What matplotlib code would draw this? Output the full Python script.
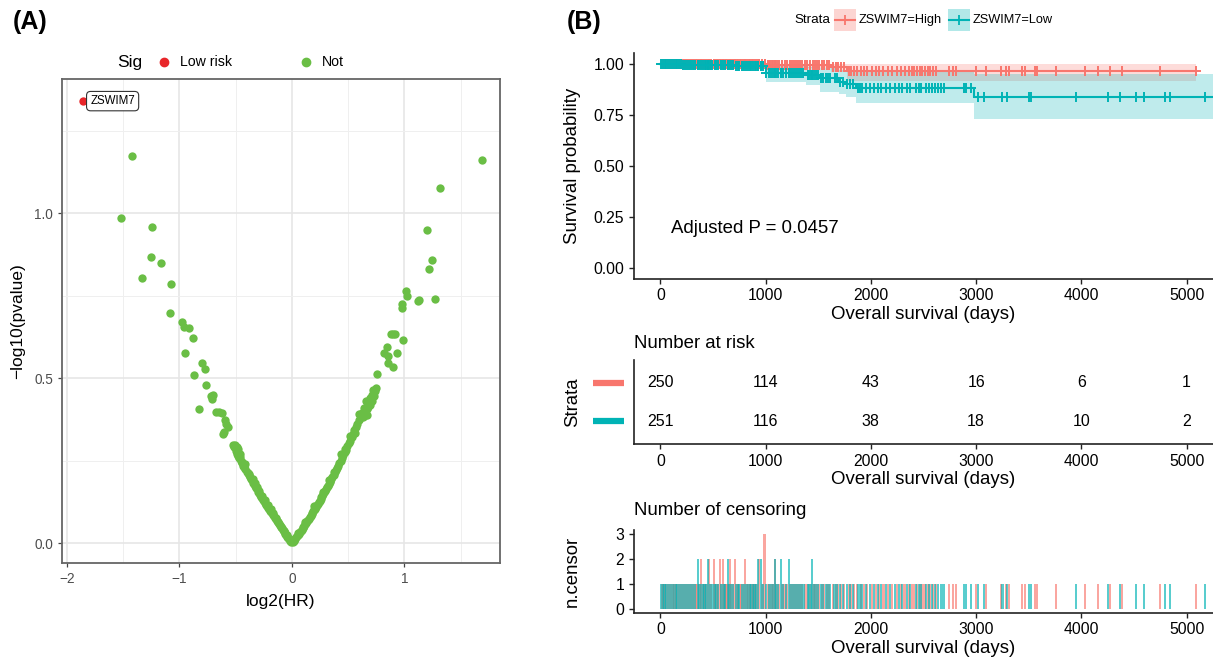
import numpy as np
import matplotlib
matplotlib.use("Agg")
import matplotlib.pyplot as plt
from matplotlib.lines import Line2D
from matplotlib.patches import Rectangle

plt.rcParams['font.family'] = ['Liberation Sans', 'DejaVu Sans']

# ---------------- Panel A: univariate Cox volcano ----------------
sig_gene = "ZSWIM7"
sig_log2hr = -1.858
sig_neglogp = 1.339

# genes with log2(HR) < 0 : (log2HR, -log10 p)
left_arm = [
    (-1.425, 1.174), (-1.520, 0.984), (-1.244, 0.958), (-1.256, 0.868), (-1.164, 0.848),
    (-1.336, 0.802), (-1.073, 0.784), (-1.087, 0.696), (-0.975, 0.671), (-0.960, 0.656),
    (-0.916, 0.651), (-0.883, 0.622), (-0.951, 0.575), (-0.797, 0.545), (-0.776, 0.529),
    (-0.868, 0.509), (-0.767, 0.479), (-0.723, 0.445), (-0.699, 0.448), (-0.710, 0.438),
    (-0.824, 0.407), (-0.671, 0.398), (-0.650, 0.396), (-0.625, 0.393), (-0.593, 0.373),
    (-0.569, 0.352), (-0.582, 0.362), (-0.616, 0.332), (-0.608, 0.338), (-0.521, 0.297),
    (-0.505, 0.297), (-0.492, 0.292), (-0.515, 0.290), (-0.480, 0.285), (-0.460, 0.270),
    (-0.462, 0.262), (-0.440, 0.247), (-0.418, 0.240),
    (-0.500, 0.278), (-0.490, 0.271), (-0.478, 0.264), (-0.470, 0.259), (-0.455, 0.250),
    (-0.446, 0.244), (-0.432, 0.235), (-0.425, 0.231), (-0.414, 0.224), (-0.402, 0.217),
    (-0.395, 0.212), (-0.386, 0.206), (-0.372, 0.199), (-0.365, 0.193), (-0.356, 0.190),
    (-0.344, 0.182), (-0.337, 0.178), (-0.326, 0.172), (-0.318, 0.168), (-0.305, 0.160),
    (-0.298, 0.156), (-0.289, 0.151), (-0.280, 0.147), (-0.271, 0.141), (-0.262, 0.136),
    (-0.254, 0.132), (-0.246, 0.127), (-0.237, 0.122), (-0.228, 0.117), (-0.220, 0.113),
    (-0.211, 0.108), (-0.203, 0.104), (-0.194, 0.099), (-0.185, 0.094), (-0.177, 0.090),
    (-0.168, 0.086), (-0.160, 0.081), (-0.151, 0.076), (-0.143, 0.072), (-0.134, 0.067),
    (-0.126, 0.063), (-0.117, 0.058), (-0.109, 0.054), (-0.100, 0.050), (-0.092, 0.046),
    (-0.083, 0.041), (-0.075, 0.037), (-0.066, 0.032), (-0.058, 0.028), (-0.049, 0.024),
    (-0.041, 0.020), (-0.032, 0.015), (-0.024, 0.012), (-0.015, 0.007), (-0.007, 0.003),
    (-0.378, 0.211), (-0.350, 0.193), (-0.330, 0.181), (-0.310, 0.170), (-0.290, 0.158),
    (-0.266, 0.143), (-0.240, 0.130), (-0.215, 0.116), (-0.190, 0.103), (-0.170, 0.091),
    (-0.140, 0.075), (-0.120, 0.064), (-0.095, 0.050), (-0.070, 0.038), (-0.045, 0.025),
    (-0.020, 0.012),
]

# genes with log2(HR) > 0
right_arm = [
    (1.692, 1.160), (1.313, 1.076), (1.203, 0.950), (1.247, 0.858), (1.221, 0.830),
    (1.271, 0.739), (1.129, 0.736), (1.118, 0.734), (1.016, 0.765), (1.018, 0.748),
    (0.975, 0.726), (0.980, 0.711), (0.990, 0.615), (0.877, 0.633), (0.896, 0.634),
    (0.918, 0.635), (0.844, 0.595), (0.822, 0.575), (0.850, 0.568), (0.850, 0.545),
    (0.936, 0.577), (0.898, 0.534), (0.756, 0.512), (0.745, 0.470), (0.738, 0.460),
    (0.723, 0.465), (0.727, 0.445), (0.715, 0.432), (0.700, 0.440), (0.690, 0.420),
    (0.680, 0.412), (0.664, 0.388), (0.670, 0.405), (0.650, 0.400), (0.640, 0.410),
    (0.630, 0.383),
    (0.006, 0.003), (0.014, 0.007), (0.022, 0.010), (0.030, 0.014), (0.038, 0.018),
    (0.046, 0.021), (0.054, 0.025), (0.062, 0.029), (0.070, 0.033), (0.078, 0.037),
    (0.086, 0.041), (0.094, 0.045), (0.102, 0.049), (0.110, 0.053), (0.118, 0.057),
    (0.126, 0.062), (0.134, 0.066), (0.142, 0.070), (0.150, 0.074), (0.158, 0.079),
    (0.166, 0.083), (0.174, 0.087), (0.182, 0.092), (0.190, 0.096), (0.198, 0.101),
    (0.206, 0.105), (0.214, 0.110), (0.222, 0.115), (0.230, 0.119), (0.238, 0.124),
    (0.246, 0.129), (0.254, 0.134), (0.262, 0.139), (0.270, 0.144), (0.278, 0.148),
    (0.286, 0.154), (0.294, 0.158), (0.302, 0.164), (0.310, 0.169), (0.318, 0.174),
    (0.326, 0.179), (0.334, 0.184), (0.342, 0.189), (0.350, 0.195), (0.360, 0.201),
    (0.370, 0.208), (0.380, 0.215), (0.390, 0.222), (0.400, 0.228), (0.410, 0.235),
    (0.420, 0.242), (0.432, 0.250), (0.444, 0.259), (0.456, 0.266), (0.468, 0.275),
    (0.480, 0.283), (0.492, 0.293), (0.505, 0.302), (0.518, 0.311), (0.530, 0.322),
    (0.542, 0.331), (0.555, 0.342), (0.568, 0.351), (0.580, 0.362), (0.595, 0.372),
    (0.610, 0.383), (0.625, 0.395),
    (0.050, 0.030), (0.120, 0.065), (0.200, 0.112), (0.280, 0.155), (0.330, 0.190),
    (0.375, 0.217), (0.440, 0.270), (0.470, 0.285), (0.520, 0.325), (0.560, 0.335),
    (0.600, 0.390), (0.640, 0.385), (0.660, 0.430), (0.690, 0.440), (0.710, 0.450),
]

# ---------------- Panel B: Kaplan-Meier (ZSWIM7 High / Low) ----------------
strata_labels = ["ZSWIM7=High", "ZSWIM7=Low"]
p_text = "Adjusted P = 0.0457"

high_step_days = [0, 1010, 1620, 1770]
high_surv = [1.000, 0.992, 0.982, 0.964]
high_lower = [1.000, 0.977, 0.960, 0.915]
high_upper = [1.000, 1.000, 1.000, 1.000]
high_last_day = 5090

low_step_days = [0, 200, 480, 700, 1000, 1380, 1514, 1700, 1760, 1860, 2975]
low_surv = [1.000, 0.996, 0.992, 0.988, 0.956, 0.944, 0.928, 0.912, 0.902, 0.881, 0.835]
low_lower = [1.000, 0.985, 0.978, 0.972, 0.910, 0.895, 0.861, 0.850, 0.837, 0.810, 0.732]
low_upper = [1.000, 1.000, 1.000, 1.000, 0.990, 0.985, 0.978, 0.970, 0.965, 0.960, 0.951]
low_last_day = 5260

# censoring days (a repeated day means several patients censored that day)
high_censor_days = [
    12, 30, 48, 65, 80, 102, 118, 135, 150, 172, 190, 205, 228, 245, 262, 280, 300, 318, 335, 352, 372,
    390, 390, 410, 425, 440, 466, 466, 482, 507, 507, 520, 535, 548, 567, 567, 580, 593, 593, 610,
    622, 635, 648, 662, 662, 675, 690, 713, 713, 725, 740, 755, 770, 785, 805, 805, 820, 838, 855,
    870, 885, 900, 918, 935, 935, 965, 990, 990, 990, 1025, 1040, 1060, 1075, 1093, 1093, 1110,
    1125, 1160, 1180, 1200, 1235, 1255, 1270, 1290, 1310, 1330, 1350, 1372, 1395, 1420, 1455, 1470,
    1490, 1510, 1535, 1555, 1580, 1600, 1640, 1665, 1690, 1720, 1745, 1790, 1815, 1840, 1870, 1905,
    1935, 1965, 2010, 2050, 2080, 2120, 2160, 2200, 2250, 2285, 2320, 2360, 2390, 2410, 2440, 2470,
    2490, 2510, 2540, 2565, 2590, 2620, 2740, 2780, 2810, 3001, 3097, 3239, 3280, 3312, 3438, 3460,
    3555, 3578, 3761, 4030, 4157, 4268, 4385, 4750, 5086,
]
low_censor_days = [
    5, 22, 40, 58, 75, 92, 110, 128, 145, 162, 180, 198, 215, 235, 252, 270, 290, 310, 328, 355, 355,
    365, 385, 405, 420, 435, 450, 450, 475, 492, 515, 530, 545, 575, 600, 615, 640, 640, 655, 670,
    690, 720, 735, 750, 780, 795, 812, 830, 848, 862, 880, 895, 910, 930, 930, 957, 957, 975, 1005,
    1035, 1050, 1070, 1086, 1086, 1100, 1118, 1147, 1147, 1165, 1190, 1220, 1220, 1245, 1262, 1280,
    1300, 1320, 1340, 1360, 1400, 1415, 1430, 1443, 1443, 1460, 1480, 1500, 1525, 1545, 1570, 1595,
    1615, 1655, 1680, 1710, 1735, 1775, 1800, 1830, 1880, 1895, 1920, 1950, 1990, 2030, 2065, 2100,
    2140, 2185, 2230, 2270, 2300, 2345, 2375, 2430, 2455, 2480, 2520, 2550, 2580, 2605, 2640, 2668,
    2690, 2882, 2906, 2950, 3020, 3075, 3250, 3295, 3500, 3520, 3951, 4252, 4370, 4515, 4591, 4797,
    4845, 5171,
]

risk_days = [0, 1000, 2000, 3000, 4000, 5000]
high_at_risk = [250, 114, 43, 16, 6, 1]
low_at_risk = [251, 116, 38, 18, 10, 2]

# ---------------- styling ----------------
RED = "#F8766D"
TEAL = "#00B3B5"
GREEN = "#6ABE45"
SIGRED = "#E8262A"
W, H = 1213, 659

fig = plt.figure(figsize=(W / 100, H / 100), dpi=100)


def fx(px):
    return px / W


def fy(py):
    return 1 - py / H


# ---- Panel A ----
axA = fig.add_axes([fx(62), fy(563), fx(500) - fx(62), fy(79) - fy(563)])
lx, ly = zip(*left_arm)
rx, ry = zip(*right_arm)
axA.scatter(lx, ly, s=36, color=GREEN, linewidths=0, zorder=3)
axA.scatter(rx, ry, s=36, color=GREEN, linewidths=0, zorder=3)
axA.scatter([sig_log2hr], [sig_neglogp], s=36, color=SIGRED, linewidths=0, zorder=3)
axA.text(sig_log2hr + 0.065, sig_neglogp, sig_gene, fontsize=8.3, ha='left', va='center',
         zorder=4, bbox=dict(boxstyle='round,pad=0.32,rounding_size=0.35', fc='white',
                             ec='#333333', lw=0.8))
axA.set_xlim(-2.044, 1.849)
axA.set_ylim(-0.06, 1.406)
axA.set_xticks([-2, -1, 0, 1])
axA.set_yticks([0.0, 0.5, 1.0])
axA.set_yticklabels(["0.0", "0.5", "1.0"])
axA.set_xticks([-1.5, -0.5, 0.5, 1.5], minor=True)
axA.set_yticks([0.25, 0.75, 1.25], minor=True)
axA.grid(True, which='major', color='#E6E6E6', lw=1.2, zorder=0)
axA.grid(True, which='minor', color='#EFEFEF', lw=0.7, zorder=0)
axA.tick_params(which='minor', length=0)
axA.tick_params(which='major', length=3, width=0.9, color='#444444', labelcolor='#4D4D4D',
                labelsize=9.8)
for sp in axA.spines.values():
    sp.set_color('#666666')
    sp.set_linewidth(1.3)
axA.set_axisbelow(True)
axA.set_xlabel("log2(HR)", fontsize=12.5, labelpad=6)
axA.set_ylabel("\u2212log10(pvalue)", fontsize=12.5)
axA.yaxis.set_label_coords(-0.085, 0.5)

fig.text(fx(13), fy(22), "(A)", fontsize=18, fontweight='bold', ha='left', va='center')
fig.text(fx(117), fy(62), "Sig", fontsize=12.5, ha='left', va='center')
fig.add_artist(Line2D([fx(164)], [fy(62)], marker='o', ms=6, color=SIGRED, lw=0,
                      transform=fig.transFigure))
fig.text(fx(180), fy(62), "Low risk", fontsize=10.2, ha='left', va='center')
fig.add_artist(Line2D([fx(306)], [fy(62)], marker='o', ms=6, color=GREEN, lw=0,
                      transform=fig.transFigure))
fig.text(fx(322), fy(62), "Not", fontsize=10.2, ha='left', va='center')

# ---- Panel B: survival curves ----
XLIM = (-250, 5250)
TICK_FS = 11.3
LAB_FS = 13.4


def style_classic(ax):
    for s in ('top', 'right'):
        ax.spines[s].set_visible(False)
    for s in ('left', 'bottom'):
        ax.spines[s].set_linewidth(1.2)
        ax.spines[s].set_color('#222222')
    ax.tick_params(length=3.5, width=1.0, color='#222222', labelsize=TICK_FS, labelcolor='black')
    ax.set_xlim(*XLIM)
    ax.set_xticks(risk_days)


axS = fig.add_axes([fx(634), fy(278.5), 1 - fx(634), fy(53.5) - fy(278.5)])
groups = [
    (high_step_days, high_surv, high_lower, high_upper, high_last_day, high_censor_days, RED),
    (low_step_days, low_surv, low_lower, low_upper, low_last_day, low_censor_days, TEAL),
]
for days, surv, lo, up, last, cens, col in groups:
    xs = list(days) + [last]
    axS.fill_between(xs, list(lo) + [lo[-1]], list(up) + [up[-1]], step='post',
                     color=col, alpha=0.25, lw=0)
for days, surv, lo, up, last, cens, col in groups:
    xs = list(days) + [last]
    axS.step(xs, list(surv) + [surv[-1]], where='post', color=col, lw=1.5)
    cens = np.asarray(cens)
    idx = np.searchsorted(days, cens, side='right') - 1
    axS.plot(cens, np.asarray(surv)[idx], ls='none', marker='+', ms=7.5, mew=1.4, color=col)
style_classic(axS)
axS.set_ylim(-0.05, 1.05)
axS.set_yticks([0, 0.25, 0.5, 0.75, 1.0])
axS.set_yticklabels(["0.00", "0.25", "0.50", "0.75", "1.00"])
axS.set_xlabel("Overall survival (days)", fontsize=LAB_FS, labelpad=2)
axS.set_ylabel("Survival probability", fontsize=LAB_FS)
axS.yaxis.set_label_coords(-0.092, 0.5)
axS.text(105, 0.196, p_text, fontsize=LAB_FS, ha='left', va='center')

fig.text(fx(567), fy(22), "(B)", fontsize=18, fontweight='bold', ha='left', va='center')

# legend
LEG_Y = 20
fig.text(fx(830), fy(LEG_Y), "Strata", fontsize=9.6, ha='right', va='center')
for x0, lab, col in ((834, strata_labels[0], RED), (948, strata_labels[1], TEAL)):
    fig.add_artist(Rectangle((fx(x0), fy(LEG_Y + 11)), fx(22), 22 / H, transform=fig.transFigure,
                             facecolor=col, alpha=0.3, lw=0))
    fig.add_artist(Line2D([fx(x0 + 1), fx(x0 + 21)], [fy(LEG_Y), fy(LEG_Y)], color=col, lw=1.5,
                          transform=fig.transFigure))
    fig.add_artist(Line2D([fx(x0 + 11)], [fy(LEG_Y)], marker='+', ms=7, mew=1.3, color=col,
                          transform=fig.transFigure))
    fig.text(fx(x0 + 25), fy(LEG_Y), lab, fontsize=9.2, ha='left', va='center')

# ---- risk table ----
axR = fig.add_axes([fx(634), fy(444), 1 - fx(634), fy(360) - fy(444)])
style_classic(axR)
axR.set_ylim(0.4, 2.6)
axR.set_yticks([])
for row, counts, col in ((2, high_at_risk, RED), (1, low_at_risk, TEAL)):
    for d, n in zip(risk_days, counts):
        axR.text(d, row, str(n), fontsize=11.5, ha='center', va='center')
    axR.plot([-0.071, -0.018], [row, row], color=col, lw=4.5, solid_capstyle='butt',
             transform=axR.get_yaxis_transform(), clip_on=False)
axR.set_xlabel("Overall survival (days)", fontsize=LAB_FS, labelpad=2)
axR.set_ylabel("Strata", fontsize=LAB_FS)
axR.yaxis.set_label_coords(-0.092, 0.5)
axR.text(0.0, 1.2, "Number at risk", fontsize=13.4, ha='left', va='center',
         transform=axR.transAxes)

# ---- censoring counts ----
axC = fig.add_axes([fx(634), fy(612.7), 1 - fx(634), fy(530.25) - fy(612.7)])
style_classic(axC)
for cens, col in ((high_censor_days, RED), (low_censor_days, TEAL)):
    t, n = np.unique(cens, return_counts=True)
    axC.bar(t, n, width=20, color=col, alpha=0.65, lw=0)
axC.set_ylim(-0.15, 3.15)
axC.set_yticks([0, 1, 2, 3])
axC.set_xlabel("Overall survival (days)", fontsize=LAB_FS, labelpad=2)
axC.set_ylabel("n.censor", fontsize=LAB_FS)
axC.yaxis.set_label_coords(-0.092, 0.5)
axC.text(0.0, 1.245, "Number of censoring", fontsize=13.4, ha='left', va='center',
         transform=axC.transAxes)

fig.savefig("out.png", dpi=100)
